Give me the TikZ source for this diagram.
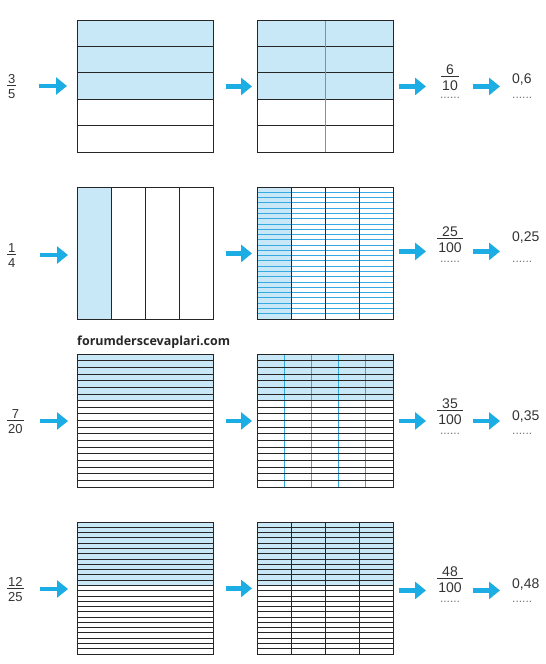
\documentclass[tikz,border=0pt]{standalone}
\usepackage{fontspec}
\setmainfont{Liberation Sans}
\newfontfamily\wmfont{Open Sans}
\usepackage{tikz}
\usetikzlibrary{arrows.meta, positioning}

\definecolor{cellblue}{HTML}{C9E8F7}
\definecolor{arrowblue}{HTML}{1CADE4}
\definecolor{lineblue}{HTML}{35AAE0}
\definecolor{gridline}{HTML}{262626}
\definecolor{numtext}{HTML}{333333}

% stacked fraction in text font
\newcommand{\fr}[2]{\begin{tabular}{@{\hspace{1pt}}c@{\hspace{1pt}}}#1\\[-3pt]\hline\rule{0pt}{0.95em}#2\\[-0.32em]\end{tabular}}

\tikzset{
  cell/.style={draw=gridline, line width=0.8pt},
  blueline/.style={draw=lineblue, line width=0.9pt},
  gridbox/.style={draw=gridline, line width=0.9pt, minimum width=136pt, minimum height=132pt, inner sep=0pt, anchor=north west},
  go/.style={draw=arrowblue, line width=4.5pt, -{Triangle[length=11pt, width=17pt]}},
  lfrac/.style={font=\fontsize{13}{15}\selectfont, text=numtext, inner sep=0pt, anchor=west},
  rfrac/.style={font=\fontsize{14}{16}\selectfont, text=numtext, inner sep=0pt},
  rtext/.style={font=\fontsize{14}{16}\selectfont, text=numtext, inner sep=0pt, anchor=base west},
  blank/.style={font=\fontsize{12}{12}\selectfont, text=black!55, inner sep=0pt},
}

\begin{document}
\begin{tikzpicture}[x=1pt, y=-1pt]
  \useasboundingbox (0,0) rectangle (546,664);

  % row 1: 3/5 -> 6/10
  \fill[cellblue] (77,20) rectangle (213,99.2);
  \fill[cellblue] (257,20) rectangle (393,99.2);
  \foreach \i in {1,...,4} {
    \draw[cell] (77,20+\i*26.4) -- ++(136,0);
    \draw[cell] (257,20+\i*26.4) -- ++(136,0);
  }
  \draw[blueline] (325,20) -- (325,152);
  \node[gridbox] (g1) at (77,20) {};
  \node[gridbox] (h1) at (257,20) {};
  \node[lfrac] (f1) at (7,86) {\fr{3}{5}};
  \node[rfrac] (a1) at (450,77) {\fr{6}{10}};
  \node[blank] at (450,98) {......};
  \node[rtext] (b1) at (512,83) {0,6};
  \node[blank, anchor=west] at (512,98) {......};
  \draw[go, shorten <=32pt, shorten >=10pt] (f1.west) -- (f1.west -| g1.west);
  \draw[go, shorten <=12pt, shorten >=5pt] (g1.east) -- (h1.west);
  \draw[go, shorten <=5pt, shorten >=24pt] (h1.east) -- (h1.east -| a1);
  \draw[go, shorten <=23pt, shorten >=12pt] (h1.east -| a1) -- (h1.east -| b1.west);

  % row 2: 1/4 -> 25/100
  \fill[cellblue] (77,187) rectangle ++(34,132);
  \fill[cellblue] (257,187) rectangle ++(34,132);
  \foreach \i in {1,...,24}
    \draw[blueline] (257,187+\i*5.28) -- ++(136,0);
  \foreach \i in {1,2,3} {
    \draw[cell] (77+\i*34,187) -- ++(0,132);
    \draw[cell] (257+\i*34,187) -- ++(0,132);
  }
  \node[gridbox] (g2) at (77,187) {};
  \node[gridbox] (h2) at (257,187) {};
  \node[lfrac] (f2) at (7,255) {\fr{1}{4}};
  \node[rfrac] (a2) at (450,239) {\fr{25}{100}};
  \node[blank] at (450,262) {......};
  \node[rtext] (b2) at (512,241) {0,25};
  \node[blank, anchor=west] at (512,262) {......};
  \draw[go, shorten <=33pt, shorten >=9pt] (f2.west) -- (f2.west -| g2.west);
  \draw[go, shorten <=12pt, shorten >=5pt] (g2.east) -- (h2.west);
  \draw[go, shorten <=5pt, shorten >=24pt] (h2.east) ++(0,-2) coordinate (p2) -- (p2 -| a2);
  \draw[go, shorten <=23pt, shorten >=12pt] (p2 -| a2) -- (p2 -| b2.west);

  % watermark
  \node[font=\wmfont\bfseries\fontsize{12.5}{14}\selectfont, text=black!85, anchor=base west, inner sep=0pt] (wm) at (77,345) {forumderscevaplari.com};

  % row 3: 7/20 -> 35/100
  \fill[cellblue] (77,354) rectangle ++(136,46.2);
  \fill[cellblue] (257,354) rectangle ++(136,46.2);
  \foreach \i in {1,2,3,4}
    \draw[blueline] (257+\i*27.2,354) -- ++(0,133);
  \foreach \i in {1,...,19} {
    \draw[cell] (77,354+\i*6.65) -- ++(136,0);
    \draw[cell] (257,354+\i*6.65) -- ++(136,0);
  }
  \node[gridbox, minimum height=133pt] (g3) at (77,354) {};
  \node[gridbox, minimum height=133pt] (h3) at (257,354) {};
  \node[lfrac] (f3) at (7,421) {\fr{7}{20}};
  \node[rfrac] (a3) at (450,411) {\fr{35}{100}};
  \node[blank] at (450,434) {......};
  \node[rtext] (b3) at (512,420) {0,35};
  \node[blank, anchor=west] at (512,434) {......};
  \draw[go, shorten <=33pt, shorten >=9pt] (f3.west) -- (f3.west -| g3.west);
  \draw[go, shorten <=12pt, shorten >=5pt] (g3.east) -- (h3.west);
  \draw[go, shorten <=5pt, shorten >=24pt] (h3.east) -- (h3.east -| a3);
  \draw[go, shorten <=23pt, shorten >=12pt] (h3.east -| a3) -- (h3.east -| b3.west);

  % row 4: 12/25 -> 48/100
  \fill[cellblue] (77,522) rectangle ++(136,63.4);
  \fill[cellblue] (257,522) rectangle ++(136,63.4);
  \foreach \i in {1,...,24} {
    \draw[cell] (77,522+\i*5.28) -- ++(136,0);
    \draw[cell] (257,522+\i*5.28) -- ++(136,0);
  }
  \foreach \i in {1,2,3}
    \draw[cell] (257+\i*34,522) -- ++(0,132);
  \node[gridbox] (g4) at (77,522) {};
  \node[gridbox] (h4) at (257,522) {};
  \node[lfrac] (f4) at (7,589) {\fr{12}{25}};
  \node[rfrac] (a4) at (450,579) {\fr{48}{100}};
  \node[blank] at (450,602) {......};
  \node[rtext] (b4) at (512,588) {0,48};
  \node[blank, anchor=west] at (512,602) {......};
  \draw[go, shorten <=33pt, shorten >=9pt] (f4.west) -- (f4.west -| g4.west);
  \draw[go, shorten <=12pt, shorten >=5pt] (g4.east) -- (h4.west);
  \draw[go, shorten <=5pt, shorten >=24pt] (h4.east) ++(0,2) coordinate (p4) -- (p4 -| a4);
  \draw[go, shorten <=23pt, shorten >=12pt] (p4 -| a4) -- (p4 -| b4.west);
\end{tikzpicture}
\end{document}
